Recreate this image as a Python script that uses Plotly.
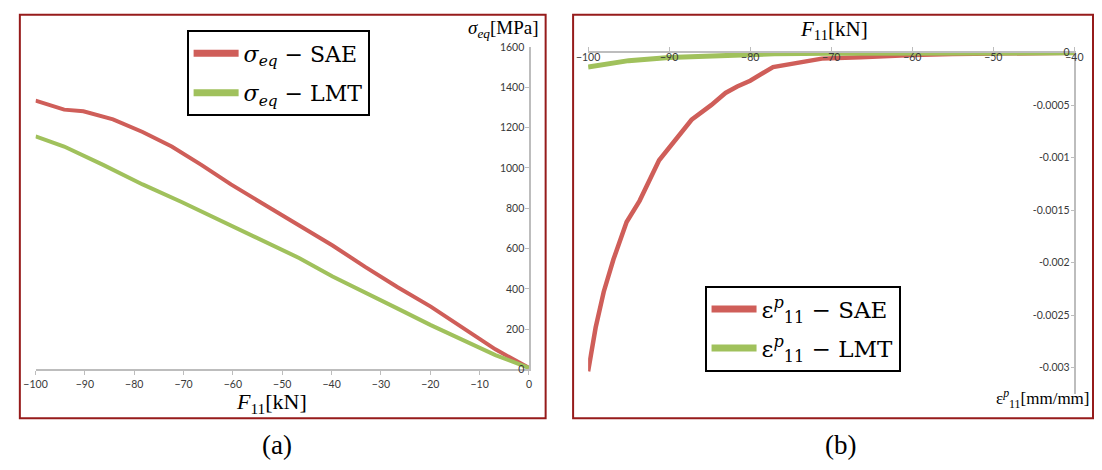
import plotly.graph_objects as go

W, H = 1102, 470

# ---------------- data: panel (a) ----------------
force_a_sae = [-100, -94.2, -90.3, -84.3, -78.3, -72.4, -66.4, -60.4, -54.5, -49.1,
               -46.5, -39.8, -33.2, -26.6, -19.9, -13.3, -6.8, -0.4, 0]
sigma_sae = [1334, 1289, 1281, 1241, 1178, 1106, 1015, 918, 831, 750,
             711, 615, 509, 408, 312, 206, 100, 13, 10]

force_a_lmt = [-100, -94.2, -86.3, -78.3, -70.4, -61.0, -53.1, -49.1, -46.5, -39.8,
               -33.2, -26.6, -19.9, -13.3, -6.8, 0]
sigma_lmt = [1156, 1106, 1015, 918, 831, 721, 625, 581, 552, 461,
             384, 302, 220, 143, 71, 8]

ticks_a_x = [-100, -90, -80, -70, -60, -50, -40, -30, -20, -10, 0]
ticks_a_y = [0, 200, 400, 600, 800, 1000, 1200, 1400, 1600]

# ---------------- data: panel (b) ----------------
force_b_sae = [-100, -99.07, -98.07, -96.87, -95.25, -93.65, -91.24, -89.23, -87.23,
               -84.82, -83.05, -81.6, -80.0, -77.18, -74.37, -71.16, -66.34, -63.2,
               -60, -55, -50.3, -45, -40]
eps_sae = [-0.003036, -0.002618, -0.002277, -0.001968, -0.001613, -0.001411,
           -0.001024, -0.000824, -0.000638, -0.000499, -0.000383, -0.000322,
           -0.000266, -0.000136, -0.0000956, -0.0000557, -0.0000436, -0.000028,
           -0.000022, -0.000012, -0.000005, -0.000002, 0]

force_b_lmt = [-100, -95, -90, -86, -82.4, -77, -70, -60, -50, -40]
eps_lmt = [-0.000135, -0.000075, -0.000045, -0.000034, -0.000030, -0.000010,
           -0.000005, -0.000003, -0.000001, 0]

ticks_b_x = [-100, -90, -80, -70, -60, -50, -40]
ticks_b_y = [0, -0.0005, -0.001, -0.0015, -0.002, -0.0025, -0.003]
ticks_b_y_text = ["0", "-0.0005", "-0.001", "-0.0015", "-0.002", "-0.0025", "-0.003"]

RED = "#CF5E59"
GREEN = "#A0C15C"
BORDER = "#961B1B"
AXIS = "#BDBDBD"
TICKFONT = dict(family="Lato", size=10.5, color="#3A3A3A")
SERIF = "Liberation Serif"
LEGSERIF = "DejaVu Serif"


def px(x):
    return x / W


def py(y):
    return 1 - y / H


fig = go.Figure()

# panel (a) traces
fig.add_trace(go.Scatter(x=force_a_sae, y=sigma_sae, mode="lines",
                         line=dict(color=RED, width=4), xaxis="x", yaxis="y",
                         showlegend=False, legendgroup="a1"))
fig.add_trace(go.Scatter(x=force_a_lmt, y=sigma_lmt, mode="lines",
                         line=dict(color=GREEN, width=4), xaxis="x", yaxis="y",
                         showlegend=False, legendgroup="a2"))
# legend entries (a)
fig.add_trace(go.Scatter(x=[None], y=[None], mode="lines",
                         line=dict(color=RED, width=7), xaxis="x", yaxis="y",
                         name="<i>σ</i><sub><i>eq</i></sub> − SAE",
                         legend="legend", legendgroup="a1"))
fig.add_trace(go.Scatter(x=[None], y=[None], mode="lines",
                         line=dict(color=GREEN, width=7), xaxis="x", yaxis="y",
                         name="<i>σ</i><sub><i>eq</i></sub> − LMT",
                         legend="legend", legendgroup="a2"))

# panel (b) traces
fig.add_trace(go.Scatter(x=force_b_sae, y=eps_sae, mode="lines",
                         line=dict(color=RED, width=4.5), xaxis="x2", yaxis="y2",
                         showlegend=False, legendgroup="b1"))
fig.add_trace(go.Scatter(x=force_b_lmt, y=eps_lmt, mode="lines",
                         line=dict(color=GREEN, width=5), xaxis="x2", yaxis="y2",
                         showlegend=False, legendgroup="b2"))
fig.add_trace(go.Scatter(x=[None], y=[None], mode="lines",
                         line=dict(color=RED, width=7), xaxis="x2", yaxis="y2",
                         name="ε<sup><i>p</i></sup><sub>11</sub> − SAE",
                         legend="legend2", legendgroup="b1"))
fig.add_trace(go.Scatter(x=[None], y=[None], mode="lines",
                         line=dict(color=GREEN, width=7), xaxis="x2", yaxis="y2",
                         name="ε<sup><i>p</i></sup><sub>11</sub> − LMT",
                         legend="legend2", legendgroup="b2"))

axis_common = dict(showgrid=False, zeroline=False, showline=True, linecolor=AXIS,
                   linewidth=1.5, tickcolor=AXIS, ticklen=4, tickwidth=1,
                   tickfont=TICKFONT, fixedrange=True, ticklabeloverflow="allow")

fig.update_layout(
    width=W, height=H, autosize=False,
    margin=dict(l=0, r=0, t=0, b=0),
    paper_bgcolor="white", plot_bgcolor="white",
    xaxis=dict(domain=[px(24), px(527)], range=[-100, 0], anchor="y",
               tickvals=ticks_a_x, ticks="outside", side="bottom", **axis_common),
    yaxis=dict(domain=[py(373), py(42)], range=[0, 1600], anchor="x",
               tickvals=ticks_a_y, side="right", ticks="inside",
               ticklabelposition="inside", **axis_common),
    xaxis2=dict(domain=[px(587.3), px(1083)], range=[-100, -40], anchor="y2",
                tickvals=ticks_b_x, side="top", ticks="outside",
                ticklabelposition="inside", **axis_common),
    yaxis2=dict(domain=[py(398), py(48)], range=[-0.00325, 0], anchor="x2",
                tickvals=ticks_b_y, ticktext=ticks_b_y_text, side="right",
                ticks="inside", ticklabelposition="inside", **axis_common),
    legend=dict(x=px(178), y=py(25), xanchor="left", yanchor="top",
                bordercolor="black", borderwidth=2, bgcolor="white",
                font=dict(family=LEGSERIF, size=22, color="black"),
                itemwidth=45, tracegroupgap=8, traceorder="grouped"),
    legend2=dict(x=px(706), y=py(287), xanchor="left", yanchor="top",
                 bordercolor="black", borderwidth=2, bgcolor="white",
                 font=dict(family=LEGSERIF, size=23, color="black"),
                 itemwidth=45, tracegroupgap=6, traceorder="grouped"),
    shapes=[
        dict(type="rect", xref="paper", yref="paper", x0=px(8), x1=px(544),
             y0=py(423), y1=py(9), line=dict(color=BORDER, width=2)),
        dict(type="rect", xref="paper", yref="paper", x0=px(572), x1=px(1102),
             y0=py(423), y1=py(9), line=dict(color=BORDER, width=2)),
    ],
    annotations=[
        dict(text="<i>F</i><sub>11</sub>[kN]", x=px(265), y=py(407), xref="paper",
             yref="paper", showarrow=False, xanchor="center", yanchor="middle",
             font=dict(family=SERIF, size=22, color="black")),
        dict(text="<i>σ</i><sub><i>eq</i></sub>[MPa]", x=px(539), y=py(24),
             xref="paper", yref="paper", showarrow=False, xanchor="right",
             yanchor="middle", font=dict(family=SERIF, size=19, color="black")),
        dict(text="<i>F</i><sub>11</sub>[kN]", x=px(838), y=py(25), xref="paper",
             yref="paper", showarrow=False, xanchor="center", yanchor="middle",
             font=dict(family=SERIF, size=21, color="black")),
        dict(text="ε<sup><i>p</i></sup><sub>11</sub>[mm/mm]", x=px(1101), y=py(403),
             xref="paper", yref="paper", showarrow=False, xanchor="right",
             yanchor="middle", font=dict(family=SERIF, size=17, color="black")),
        dict(text="(a)", x=px(270), y=py(451), xref="paper", yref="paper",
             showarrow=False, xanchor="center", yanchor="middle",
             font=dict(family=SERIF, size=27, color="black")),
        dict(text="(b)", x=px(845), y=py(451), xref="paper", yref="paper",
             showarrow=False, xanchor="center", yanchor="middle",
             font=dict(family=SERIF, size=27, color="black")),
    ],
)

fig.write_html(
    "out.html",
    config={"displayModeBar": False},
    post_script=(
        "document.documentElement.style.margin='0';"
        "document.documentElement.style.padding='0';"
        "document.documentElement.style.overflow='hidden';"
        "document.body.style.margin='0';"
        "document.body.style.padding='0';"
        "document.body.style.overflow='hidden';"
        "var gd=document.getElementById('{plot_id}');"
        "gd.style.position='fixed';gd.style.left='0px';gd.style.top='0px';"
    ),
)
